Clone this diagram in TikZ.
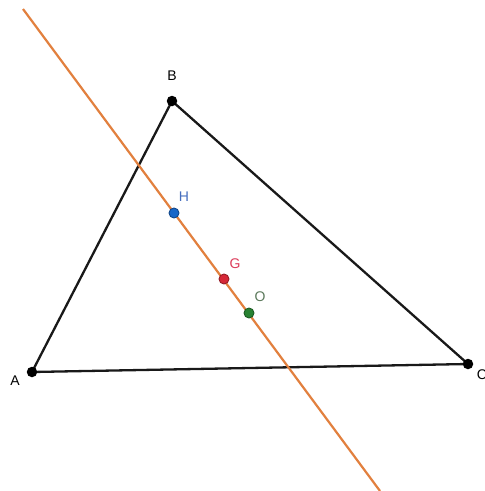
\documentclass[tikz,border=0pt]{standalone}
\usepackage{fontspec}
\setmainfont{Liberation Sans}
\definecolor{lineorange}{RGB}{226,128,62}
\definecolor{hblue}{RGB}{25,103,200}
\definecolor{gred}{RGB}{214,40,55}
\definecolor{ogreen}{RGB}{40,130,50}
\definecolor{hlab}{RGB}{70,110,190}
\definecolor{glab}{RGB}{220,60,90}
\definecolor{olab}{RGB}{90,120,90}
\tikzset{
  pt/.style={circle,fill=black,inner sep=0pt,minimum size=10.5pt},
  cpt/.style={circle,draw=#1!70!black,fill=#1,line width=0.9pt,inner sep=0pt,minimum size=10pt},
  lab/.style={font=\fontsize{14}{16}\selectfont,inner sep=0pt},
  side/.style={line width=2.3pt,black!90},
  eline/.style={line width=2.2pt,lineorange}
}
\begin{document}
\begin{tikzpicture}[x=1pt,y=-1pt]
\useasboundingbox (0,0) rectangle (485,491);
\fill[white] (0,0) rectangle (485,491);
\coordinate (L1) at (23,9);
\coordinate (L2) at (380,491);
\coordinate (Ac) at (32,372);
\coordinate (Bc) at (172,101);
\coordinate (Cc) at (468,364);
\draw[side] (Ac) -- (Bc) -- (Cc) -- cycle;
\draw[eline] (L1) -- (L2);
\node[pt] (A) at (Ac) {};
\node[pt] (B) at (Bc) {};
\node[pt] (C) at (Cc) {};
\node[cpt=hblue] (H) at (174,213) {};
\node[cpt=gred] (G) at (224,279) {};
\node[cpt=ogreen] (O) at (249,313) {};
\node[lab] (lA) at (15,381) {A};
\node[lab] (lB) at (172,76) {B};
\node[lab] (lC) at (482,375) {C};
\node[lab,text=hlab] (lH) at (184,197) {H};
\node[lab,text=glab] (lG) at (235,264) {G};
\node[lab,text=olab] (lO) at (260,297) {O};
\end{tikzpicture}
\end{document}
